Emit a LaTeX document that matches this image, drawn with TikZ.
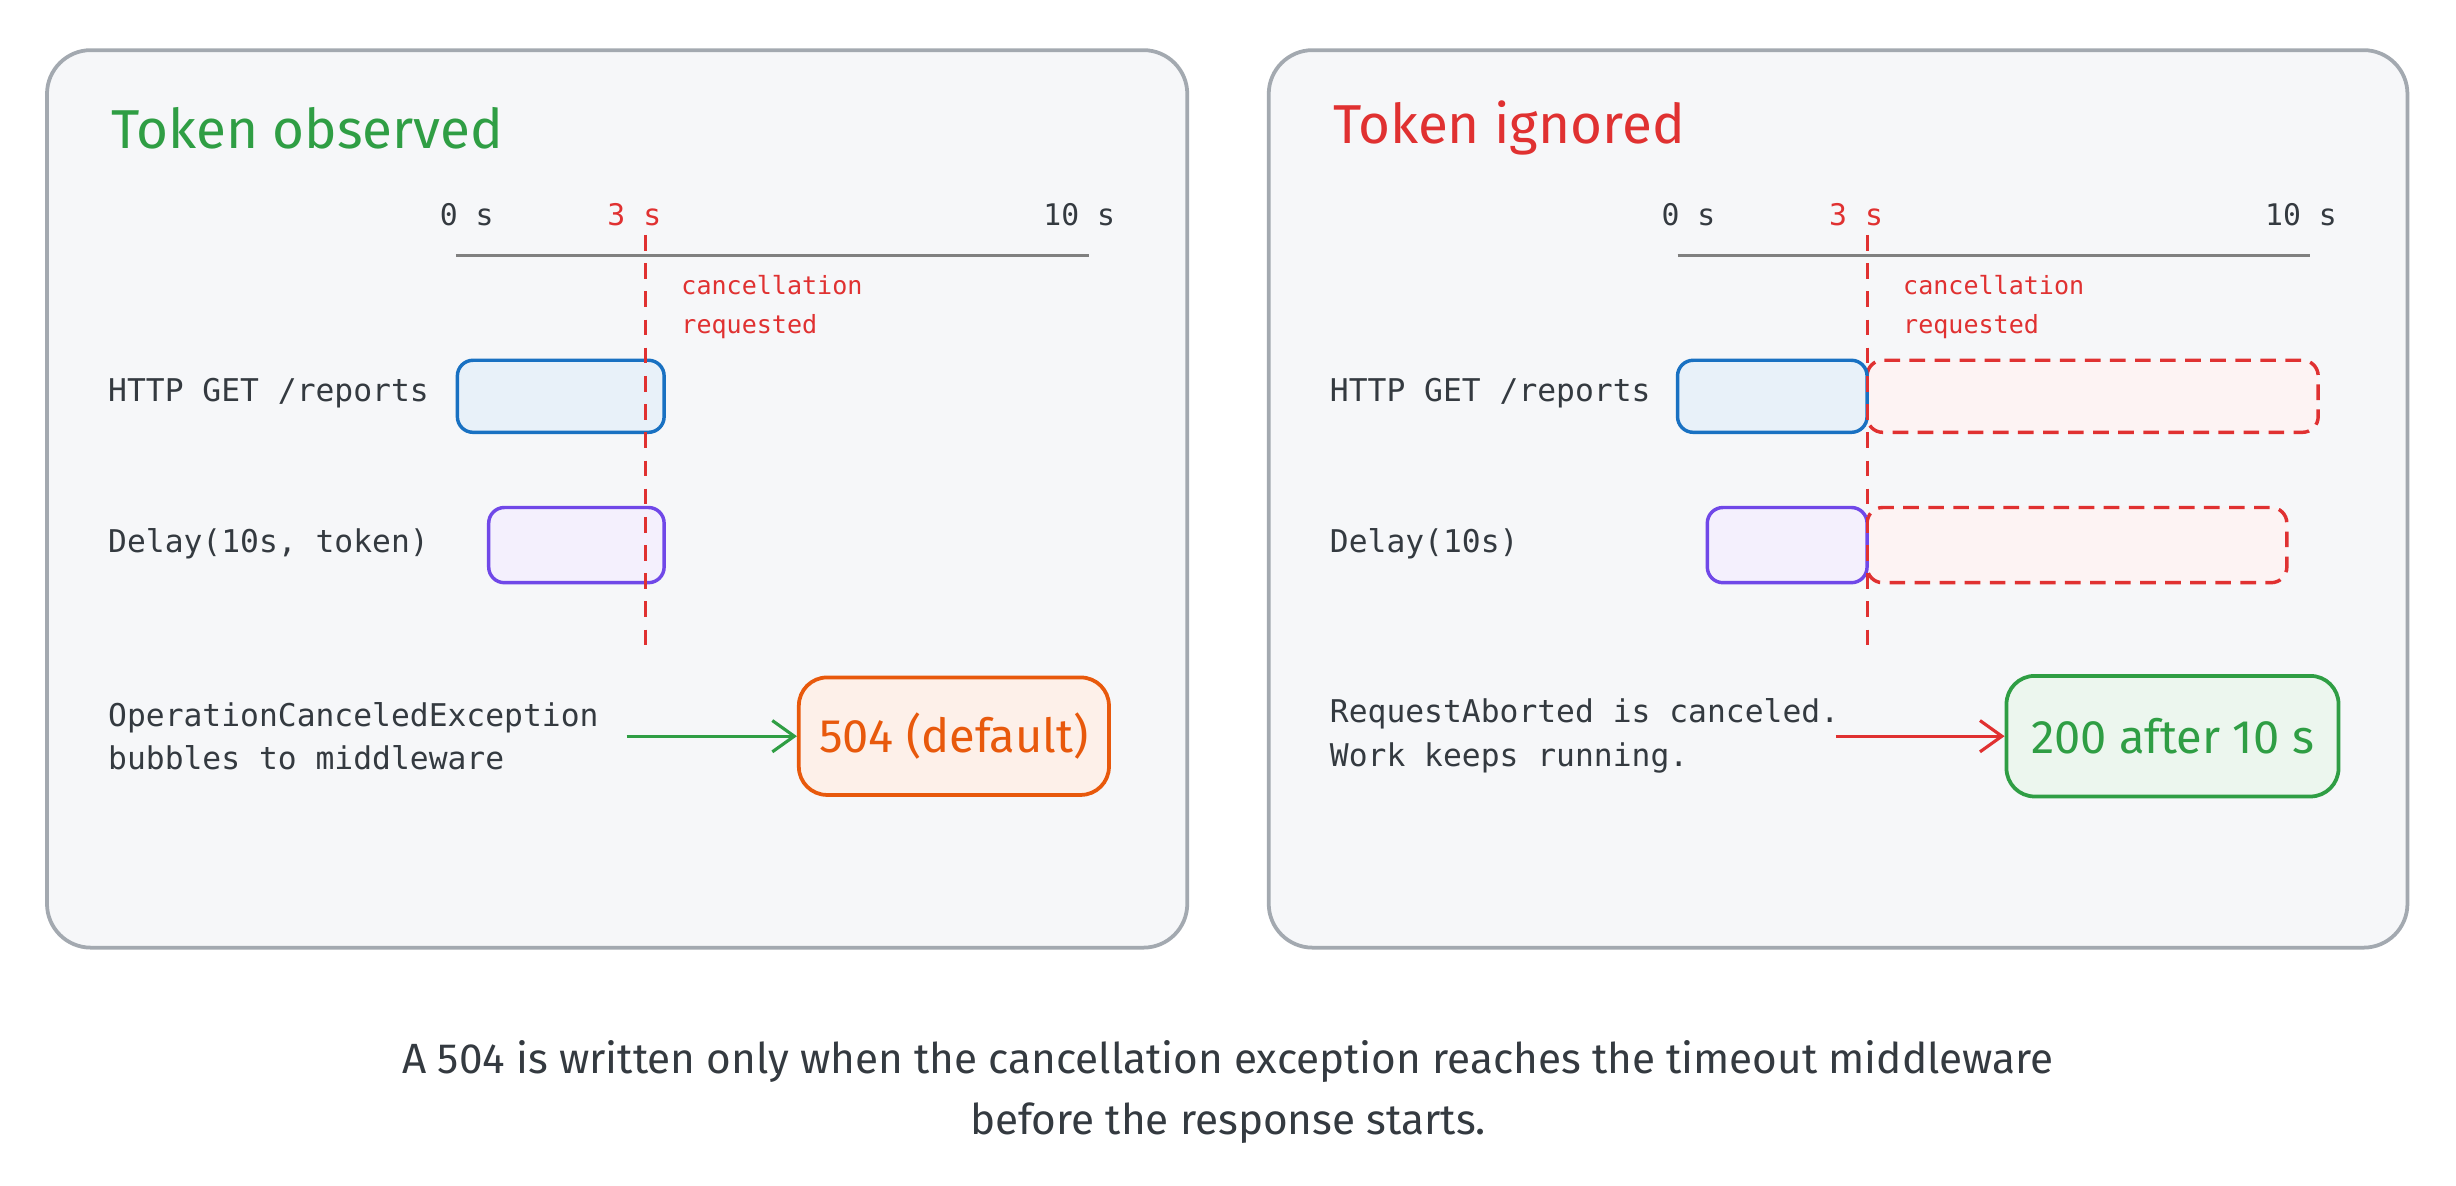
\documentclass[tikz,border=0pt]{standalone}
\usepackage{fontspec}
\setmainfont{Fira Sans}
\newfontfamily\mono{DejaVu Sans Mono}
\usetikzlibrary{arrows.meta}
\definecolor{pfill}{HTML}{F6F7F9}
\definecolor{pdraw}{HTML}{A3A9B0}
\definecolor{gr}{HTML}{2F9E44}
\definecolor{rd}{HTML}{E03131}
\definecolor{bl}{HTML}{1971C2}
\definecolor{pu}{HTML}{7048E8}
\definecolor{og}{HTML}{E8590C}
\definecolor{tx}{HTML}{343A40}
\tikzset{
 panel/.style={draw=pdraw,fill=pfill,line width=1.2pt,rounded corners=14pt},
 bar/.style={line width=1.1pt,rounded corners=5pt},
 ghost/.style={draw=rd,fill=rd!6,dashed,dash pattern=on 5pt off 3pt,line width=1.1pt,rounded corners=5pt},
 title/.style={anchor=west,font=\fontsize{17.5}{20}\selectfont},
 lab/.style={anchor=west,font=\mono\fontsize{10}{14}\selectfont,text=tx,align=left},
 tick/.style={font=\mono\fontsize{9.5}{12}\selectfont,text=tx},
 small/.style={anchor=west,font=\mono\fontsize{8}{12.5}\selectfont,text=rd,align=left},
 cut/.style={draw=rd,dashed,dash pattern=on 5pt off 4pt,line width=1pt},
 axis/.style={draw=gray,line width=1pt},
 res/.style={line width=1.2pt,rounded corners=9pt,font=\fontsize{15}{17}\selectfont,inner sep=0},
 arr/.style={-{Straight Barb[length=7pt,width=10pt]},line width=1pt}
}
\begin{document}
\begin{tikzpicture}[x=0.5pt,y=-0.5pt]
\useasboundingbox (0,0) rectangle (1568,757);
\fill[white] (0,0) rectangle (1568,757);
% left
\draw[panel] (30,32) rectangle (758,605);
\node[title,text=gr] (t1) at (64,82) {Token observed};
\coordinate (a1) at (291,163); \coordinate (a2) at (695,163);
\draw[axis] (a1) -- (a2);
\node[tick] (l0) at (298,137) {0 s};
\node[tick,text=rd] (l3) at (405,137) {3 s};
\node[tick] (l10) at (689,137) {10 s};
\node[small] (c1) at (428,196) {cancellation\\requested};
\node[lab] (h1) at (62,251) {HTTP GET /reports};
\draw[bar,draw=bl,fill=bl!10] (292,230) rectangle (424,276);
\node[lab] (d1) at (62,347) {Delay(10s, token)};
\draw[bar,draw=pu,fill=pu!8] (312,324) rectangle (424,372);
\coordinate (k1) at (412,150); \coordinate (k2) at (412,415);
\draw[cut] (k1) -- (k2);
\node[lab] (o1) at (62,470) {OperationCanceledException\\bubbles to middleware};
\node[res,draw=og,fill=og!9,text=og,minimum width=99pt,minimum height=37.5pt] (r1) at (609,470) {504 (default)};
\coordinate (s1) at (400,470);
\draw[arr,gr] (s1) -- (r1.west);
% right
\draw[panel] (810,32) rectangle (1537,605);
\node[title,text=rd] (t2) at (844,82) {Token ignored};
\coordinate (b1) at (1071,163); \coordinate (b2) at (1475,163);
\draw[axis] (b1) -- (b2);
\node[tick] (m0) at (1078,137) {0 s};
\node[tick,text=rd] (m3) at (1185,137) {3 s};
\node[tick] (m10) at (1469,137) {10 s};
\node[small] (c2) at (1208,196) {cancellation\\requested};
\node[lab] (h2) at (842,251) {HTTP GET /reports};
\draw[ghost] (1192,230) rectangle (1480,276);
\draw[bar,draw=bl,fill=bl!10] (1071,230) rectangle (1192,276);
\node[lab] (d2) at (842,347) {Delay(10s)};
\draw[ghost] (1192,324) rectangle (1460,372);
\draw[bar,draw=pu,fill=pu!8] (1090,324) rectangle (1192,372);
\coordinate (q1) at (1192,150); \coordinate (q2) at (1192,415);
\draw[cut] (q1) -- (q2);
\node[lab] (o2) at (842,470) {RequestAborted is canceled.\\Work keeps running.};
\node[res,draw=gr,fill=gr!9,text=gr,minimum width=106pt,minimum height=38.5pt] (r2) at (1387,470) {200 after 10 s};
\coordinate (s2) at (1172,470);
\draw[arr,rd] (s2) -- (r2.west);
% caption
\node[font=\fontsize{13.5}{19.5}\selectfont,text=tx,align=center] (cap) at (784,697) {A 504 is written only when the cancellation exception reaches the timeout middleware\\before the response starts.};
\end{tikzpicture}
\end{document}
